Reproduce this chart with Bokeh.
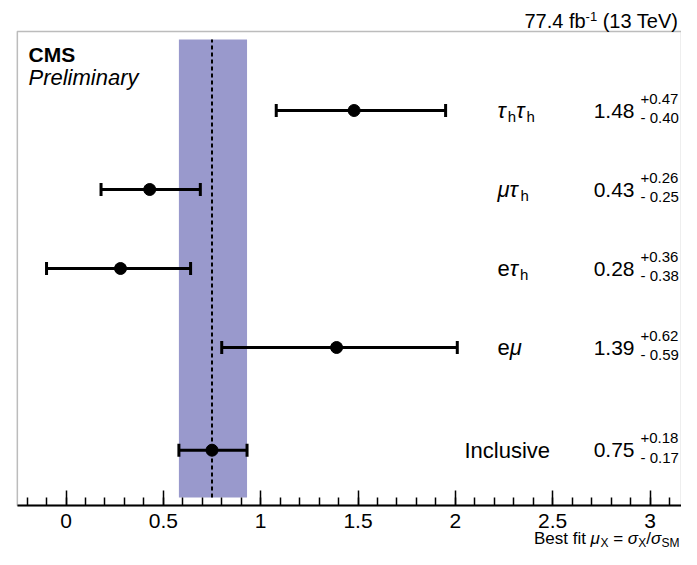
import math
from bokeh.plotting import figure
from bokeh.models import Label, FixedTicker, Range1d, BoxAnnotation
from bokeh.embed import file_html
from bokeh.resources import INLINE

# ---------------- data ----------------
channels = ["τ_{h}τ_{h}", "μτ_{h}", "eτ_{h}", "eμ", "Inclusive"]
best_fit = [1.48, 0.43, 0.28, 1.39, 0.75]
err_up = [0.47, 0.26, 0.36, 0.62, 0.18]
err_down = [0.40, 0.25, 0.38, 0.59, 0.17]
major_ticks = [0, 0.5, 1, 1.5, 2, 2.5, 3]
tick_labels = ["0", "0.5", "1", "1.5", "2", "2.5", "3"]
minor_ticks = [round(-0.2 + 0.1 * i, 1) for i in range(36)]
lumi_text = ["77.4 fb", "-1", " (13 TeV)"]
x_title = "Best fit μ_{X} = σ_{X}/σ_{SM}"
cms_text = "CMS"
prelim_text = "Preliminary"

# ---------------- layout ----------------
FONT = "Liberation Sans"
W, H = 681, 549
X_ZERO_PX, PPU = 65.5, 194.67      # pixel of x=0, pixels per unit in x
Y_ZERO_PX, PPY = 505.0, 79.0       # pixel of y=0, pixels per unit in y
XLO, XHI = -0.25, 3.2              # visible box in x
YLO, YHI = 0.0, 6.0                # visible box in y
row_y = [5, 4, 3, 2, 0.7]
BASE_FIX = 0.32                    # baseline correction (em) for svg text


def xd(px):
    return (px - X_ZERO_PX) / PPU


def yd(py):
    return (Y_ZERO_PX - py) / PPY


CW = {' ': .278, '.': .278, '+': .584, '-': .333, '/': .278, '=': .584, '(': .333, ')': .333,
      'A': .667, 'B': .667, 'C': .722, 'E': .667, 'I': .278, 'M': .833, 'S': .667, 'T': .611,
      'V': .667, 'X': .667, 'a': .556, 'b': .556, 'c': .5, 'e': .556, 'f': .278, 'h': .556,
      'i': .222, 'l': .222, 'n': .556, 's': .5, 't': .278, 'u': .556, 'v': .5,
      'μ': .576, 'τ': .47, 'σ': .617}


def tw(s, size):
    return sum(CW.get(ch, .556) for ch in s) * size


def is_greek(ch):
    return '\u0370' <= ch <= '\u03ff'


def parse(s, size, sub_size, sub_dy):
    pieces = []
    i = 0
    buf = ""

    def flush(b):
        cur = ""
        cur_g = None
        for ch in b:
            g = is_greek(ch)
            if cur and g != cur_g:
                pieces.append((cur, size, "italic" if cur_g else "normal", 0))
                cur = ""
            cur += ch
            cur_g = g
        if cur:
            pieces.append((cur, size, "italic" if cur_g else "normal", 0))

    while i < len(s):
        if s.startswith("_{", i):
            flush(buf)
            buf = ""
            j = s.index("}", i)
            pieces.append((s[i + 2:j], sub_size, "normal", sub_dy))
            i = j + 1
        else:
            buf += s[i]
            i += 1
    flush(buf)
    return pieces


def add_text(p, x, y, text, size, style="normal", x_off=0.0, y_off=0.0):
    p.add_layout(Label(x=x, y=y, x_offset=x_off, y_offset=y_off + BASE_FIX * size,
                       text=text, text_font=FONT, text_font_size=f"{size}px",
                       text_font_style=style, text_color="black",
                       text_baseline="alphabetic", text_align="left"))


def draw_rich(p, x, y, pieces, x_off=0, y_off=0, align="left"):
    total = sum(tw(t, sz) for t, sz, st, dy in pieces)
    cur = x_off - total if align == "right" else x_off
    for t, sz, st, dy in pieces:
        lead = len(t) - len(t.lstrip(" "))
        shown = t.strip(" ")
        if shown:
            add_text(p, x, y, shown, sz, st, x_off=cur + lead * CW[' '] * sz, y_off=y_off + dy)
        cur += tw(t, sz)


p = figure(width=W, height=H, x_range=Range1d(xd(0), xd(W)), y_range=Range1d(yd(H), yd(0)),
           output_backend="svg", toolbar_location=None,
           min_border_left=0, min_border_right=0, min_border_top=0, min_border_bottom=0)
p.title.visible = False
p.yaxis.visible = False
p.grid.visible = False
p.outline_line_color = None
p.background_fill_color = "white"
p.border_fill_color = "white"

# x axis, drawn at y = 0 inside the canvas
ax = p.xaxis[0]
ax.fixed_location = 0
ax.bounds = (XLO, XHI)
ax.ticker = FixedTicker(ticks=major_ticks, minor_ticks=minor_ticks)
ax.major_label_overrides = {t: l for t, l in zip(major_ticks, tick_labels)}
ax.major_tick_in = 15
ax.major_tick_out = 0
ax.minor_tick_in = 8
ax.minor_tick_out = 0
ax.major_tick_line_width = 1.5
ax.minor_tick_line_width = 1.5
ax.major_tick_line_color = "black"
ax.minor_tick_line_color = "black"
ax.axis_line_width = 2
ax.axis_line_color = "black"
ax.major_label_text_font = FONT
ax.major_label_text_font_size = "21px"
ax.major_label_text_color = "black"
ax.major_label_standoff = 8

# visible box (left / top / right edges)
p.add_layout(BoxAnnotation(left=XLO, right=None, bottom=YLO, top=YHI, fill_alpha=0,
                           line_color="#222222", line_width=1.5, level="underlay"))

# inclusive band
inc = best_fit[-1]
p.quad(left=[inc - err_down[-1]], right=[inc + err_up[-1]], bottom=[0.1], top=[5.9],
       fill_color="#9999cc", line_color=None)
p.segment(x0=[inc], y0=[0.1], x1=[inc], y1=[5.9], line_color="black", line_width=2,
          line_dash="4 3")

lows = [v - d for v, d in zip(best_fit, err_down)]
highs = [v + u for v, u in zip(best_fit, err_up)]
p.segment(x0=lows, y0=row_y, x1=highs, y1=row_y, line_color="black", line_width=3)
p.scatter(x=lows + highs, y=row_y + row_y, marker="dash", size=13, angle=math.pi / 2,
          line_color="black", line_width=3)
p.scatter(x=best_fit, y=row_y, marker="circle", size=12, fill_color="black",
          line_color="black")

# row labels & values
for name, v, u, d, yy in zip(channels, best_fit, err_up, err_down, row_y):
    lx = xd(464) if name == "Inclusive" else xd(497)
    draw_rich(p, lx, yy, parse(name, 22, 15, -4), y_off=-7)
    draw_rich(p, xd(634), yy, [(f"{v:.2f}", 21, "normal", 0)], y_off=-7, align="right")
    draw_rich(p, xd(640), yy, [(f"+{u:.2f}", 15, "normal", 0)], y_off=7)
    draw_rich(p, xd(640), yy, [(f"- {d:.2f}", 15, "normal", 0)], y_off=-12)

# CMS / Preliminary
add_text(p, xd(28), yd(61), cms_text, 21, "bold")
add_text(p, xd(28), yd(84), prelim_text, 22, "italic")

# luminosity header
draw_rich(p, xd(680), yd(27),
          [(lumi_text[0], 20, "normal", 0), (lumi_text[1], 13, "normal", 7),
           (lumi_text[2], 20, "normal", 0)], align="right")

# x-axis title
draw_rich(p, xd(679), yd(543), parse(x_title, 17, 12, -3), align="right")

open("out.html", "w").write(file_html(p, INLINE))
